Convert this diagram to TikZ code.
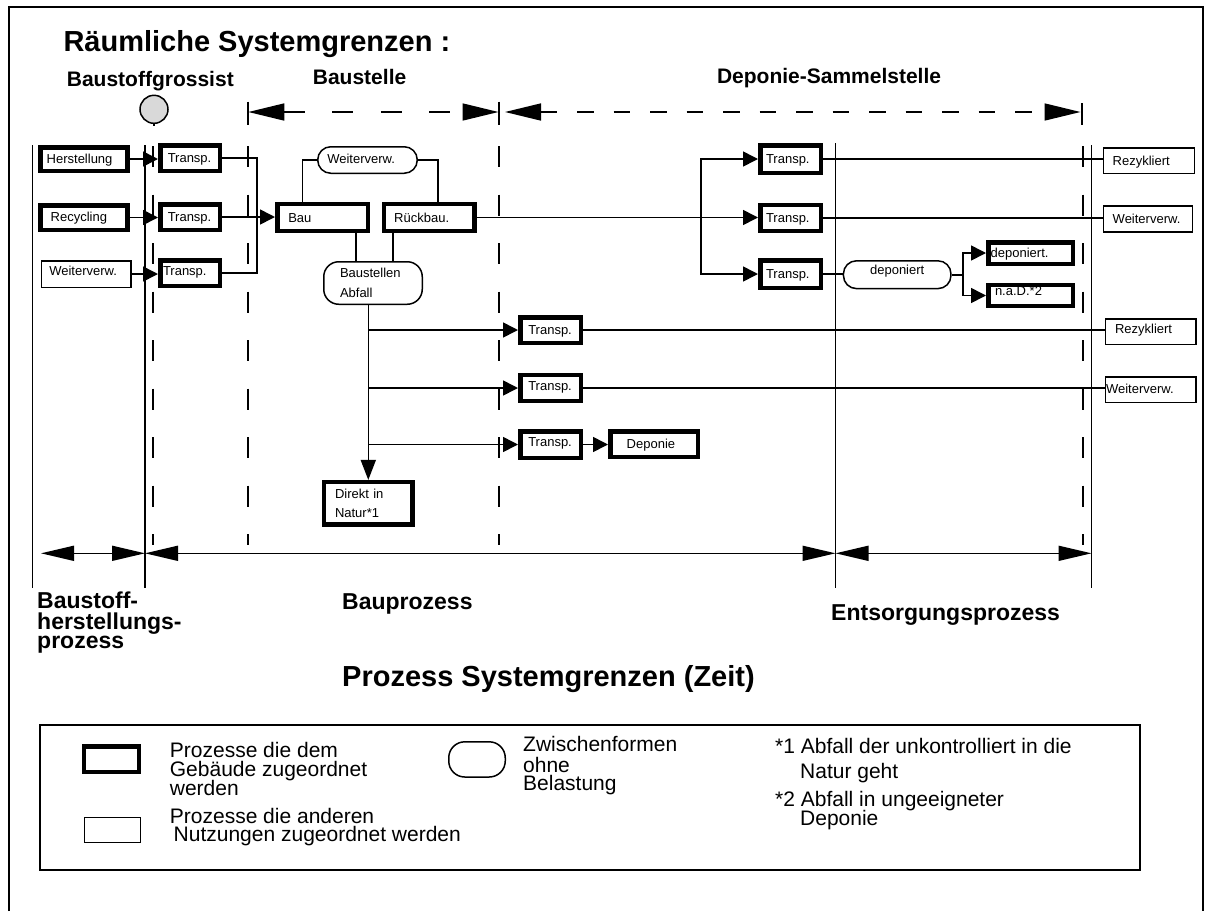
\documentclass[tikz,border=0pt]{standalone}
\usepackage{fontspec}
\setmainfont{Liberation Sans}
\usetikzlibrary{arrows.meta}
\newcommand\fsmall{\fontsize{13}{15}\selectfont}
\newcommand\fsmallB{\fontsize{13}{20}\selectfont}
\newcommand\fsmallC{\fontsize{13}{18.7}\selectfont}
\newcommand\flegend{\fontsize{21}{21}\selectfont}
\newcommand\fhead{\fontsize{21}{24}\selectfont\bfseries}
\newcommand\fproc{\fontsize{23}{24}\selectfont\bfseries}
\newcommand\ftitle{\fontsize{29}{32}\selectfont\bfseries}
\begin{document}
\begin{tikzpicture}[x=1pt,y=-1pt,
  conn/.style={line width=1.6pt},
  arr/.style={conn,-{Triangle[length=15pt,width=15pt]}},
  arrd/.style={conn,-{Triangle[length=20pt,width=15pt]}},
  dimA/.style={line width=1.6pt,{Triangle[length=36pt,width=17pt]}-{Triangle[length=36pt,width=17pt]}},
  dimB/.style={line width=1.6pt,{Triangle[length=33pt,width=15pt]}-{Triangle[length=33pt,width=15pt]}},
  tick/.style={line width=2pt},
  dsh/.style={line width=2pt,dash pattern=on 21pt off 27.5pt},
  sol/.style={line width=1.6pt},
  gb/.style={draw,line width=4.5pt,rectangle,inner sep=0pt,font=\fsmall,align=left},
  ob/.style={draw,line width=1.5pt,rectangle,inner sep=0pt,font=\fsmall,align=left},
  rbx/.style={ob,rounded corners=13pt},
  tl/.style={text height=9.5pt,text depth=#1},
  sz/.style n args={3}{minimum width=#1pt,minimum height=#2pt,text width=#3pt},
  lbl/.style={anchor=base west,inner sep=0pt},
]
\useasboundingbox (0,0) rectangle (1205,911);
% outer frame
\draw[line width=2pt] (9,911) -- (9,7) -- (1203,7) -- (1203,911);

% titles
\node[lbl,font=\ftitle] (title) at (63.3,51.7) {Räumliche Systemgrenzen :};
\node[lbl,font=\fhead] (hgross) at (66.7,86) {Baustoffgrossist};
\node[lbl,font=\fhead] (hbaust) at (312.7,84) {Baustelle};
\node[lbl,font=\fhead] (hdepo) at (716.8,83) {Deponie-Sammelstelle};

% circle
\node[circle,draw,fill=gray!30,line width=1.5pt,minimum size=28pt,inner sep=0pt] (grossist) at (154,109.3) {};
\coordinate (stemE) at (154,126);
\draw[conn] (grossist.south) -- (stemE);

% top dimension lines
\coordinate (bsL) at (248.3,112); \coordinate (bsR) at (498.5,112);
\coordinate (dpL) at (505,112); \coordinate (dpR) at (1080.5,112);
\draw[dimA,dash pattern=on 21pt off 27.5pt] (bsL) -- (bsR);
\draw[dimA,dash pattern=on 16.5pt off 20pt] (dpL) -- (dpR);
\coordinate (k1a) at (248.3,101.7); \coordinate (k1b) at (248.3,125);
\coordinate (k2a) at (499.3,101.7); \coordinate (k2b) at (499.3,125);
\coordinate (k3a) at (1081.7,103); \coordinate (k3b) at (1081.7,125);
\draw[tick] (k1a) -- (k1b); \draw[tick] (k2a) -- (k2b); \draw[tick] (k3a) -- (k3b);

% dashed vertical boundaries
\coordinate (d1a) at (153,146); \coordinate (d1b) at (153,545);
\coordinate (d2a) at (248.3,146); \coordinate (d2b) at (248.3,545);
\coordinate (d3a) at (499.3,146); \coordinate (d3b) at (499.3,545);
\coordinate (d4a) at (1083,146); \coordinate (d4b) at (1083,545);
\draw[dsh] (d1a) -- (d1b); \draw[dsh] (d2a) -- (d2b);
\draw[dsh] (d3a) -- (d3b); \draw[dsh] (d4a) -- (d4b);

% solid vertical process boundaries
\coordinate (s1a) at (32.5,145); \coordinate (s1b) at (32.5,588.3);
\coordinate (s2a) at (145,145); \coordinate (s2b) at (145,588.3);
\coordinate (s3a) at (835.5,143); \coordinate (s3b) at (835.5,588.3);
\coordinate (s4a) at (1091.5,145); \coordinate (s4b) at (1091.5,588.3);
\draw[sol] (s1a) -- (s1b); \draw[sol] (s2a) -- (s2b);
\draw[sol] (s3a) -- (s3b); \draw[sol] (s4a) -- (s4b);

% bottom dimension lines
\coordinate (b1) at (41,553.3); \coordinate (b2) at (145,553.3);
\coordinate (b3) at (835.5,553.3); \coordinate (b4) at (1091.5,553.3);
\draw[dimB] (b1) -- (b2);
\draw[dimB] (b2) -- (b3);
\draw[dimB] (b3) -- (b4);

% left column
\node[gb,sz={87}{23.5}{75},tl=-2.5pt] (herst) at (84.2,159) {Herstellung};
\node[gb,sz={87}{24.5}{67},tl=1.1pt] (recyc) at (84.2,217.5) {Recycling};
\node[ob,sz={89.8}{26.5}{74},tl=7.5pt] (weiL) at (86.3,274) {Weiterverw.};
\node[gb,sz={59.5}{25.5}{44.5},tl=-1.1pt] (tA) at (190,158) {Transp.};
\node[gb,sz={59.5}{25.5}{44.5},tl=0.1pt] (tB) at (190,217) {Transp.};
\node[gb,sz={59.5}{25.5}{54},tl=5.5pt] (tC) at (190,273) {Transp.};
\draw[arr] (herst.east) -- (herst.east -| tA.west);
\draw[arr] (recyc.east) -- (recyc.east -| tB.west);
\draw[arr] (weiL.east) -- (weiL.east -| tC.west);
\coordinate (jL) at (256.7,217.5);
\draw[conn] (tA.east) -| (jL) |- (tC.east);

% Baustelle
\node[gb,sz={90.5}{27}{68.4},tl=-8.9pt] (bau) at (322.5,217.5) {Bau};
\node[gb,sz={90.5}{27}{70},tl=-8.9pt] (rb) at (429.2,217.5) {Rückbau.};
\node[rbx,sz={99.5}{26.5}{80.4},tl=2.9pt] (wm) at (367.5,160) {Weiterverw.};
\node[rbx,rounded corners=15pt,font=\fsmallB,sz={98.5}{42.5}{66}] (abf) at (373,283) {Baustellen\\Abfall};
\node[gb,font=\fsmallC,sz={88.8}{42.2}{66.6}] (dn) at (368.3,503.3) {Direkt in\\Natur*1};
\draw[arr] (tB.east) -- (tB.east -| bau.west);
\draw[conn] (wm.west) -| ([xshift=-20pt]bau.north);
\draw[conn] (wm.east) -| ([xshift=9pt]rb.north);
\draw[conn] ([xshift=33.5pt]bau.south) -- ([xshift=33.5pt]bau.south |- abf.north);
\draw[conn] ([xshift=-36pt]rb.south) -- ([xshift=-36pt]rb.south |- abf.north);
\draw[arrd] (dn.north |- abf.south) -- (dn.north);

% middle transports
\node[gb,sz={60.5}{25.5}{44.5},tl=-2.5pt] (tM1) at (550.5,330) {Transp.};
\node[gb,sz={60.5}{26}{44.5},tl=4.1pt] (tM2) at (550.5,388) {Transp.};
\node[gb,sz={60.5}{26.5}{44.5},tl=5.1pt] (tM3) at (550.5,444.5) {Transp.};
\node[gb,sz={87.5}{25.5}{54.6},tl=-7.9pt] (dpn) at (654,444) {Deponie};
\draw[arr] (dn.north |- tM1.west) -- (tM1.west);
\draw[arr] (dn.north |- tM2.west) -- (tM2.west);
\draw[arr] (dn.north |- tM3.west) -- (tM3.west);
\draw[arr] (tM3.east) -- (tM3.east -| dpn.west);
\node[ob,sz={90.2}{25.5}{71.6},tl=6.5pt] (rezM) at (1150.8,331.5) {Rezykliert};
\node[ob,sz={90.2}{25.8}{89.6},tl=2.9pt] (weiM) at (1150.8,389.7) {Weiterverw.};
\draw[conn] (tM1.east) -- (tM1.east -| rezM.west);
\draw[conn] (tM2.east) -- (tM2.east -| weiM.west);

% right transports
\node[gb,sz={60.5}{27.5}{49},tl=-5.9pt] (tR1) at (790.5,159) {Transp.};
\node[gb,sz={60.5}{26}{49},tl=-7.9pt] (tR2) at (790.5,218) {Transp.};
\node[gb,sz={60.5}{27.5}{49},tl=-5.9pt] (tR3) at (790.5,274) {Transp.};
\coordinate (jR) at (700.7,217.5);
\draw[arr] (rb.east) -- (rb.east -| tR2.west);
\draw[arr] (jR) |- (tR1.west);
\draw[arr] (jR) |- (tR3.west);
\node[ob,sz={90.8}{25.5}{72.4},tl=0.5pt] (rezT) at (1148.9,160.5) {Rezykliert};
\node[ob,sz={88.8}{26}{70.4},tl=-6.1pt] (weiT) at (1147.9,218.9) {Weiterverw.};
\draw[conn] (tR1.east) -- (tR1.east -| rezT.west);
\draw[conn] (tR2.east) -- (tR2.east -| weiT.west);
\node[rbx,align=center,sz={107.5}{27.8}{100},tl=10pt] (dep) at (897.2,274.7) {deponiert};
\node[gb,sz={84.5}{21.5}{79.6},tl=-0.5pt] (depd) at (1030.5,253) {deponiert.};
\node[gb,sz={84.5}{21}{71},tl=9.5pt] (nad) at (1030.5,295.5) {n.a.D.*2};
\coordinate (jD) at (962.7,274.7);
\draw[conn] (tR3.east) -- (tR3.east -| dep.west);
\draw[conn] (dep.east) -- (jD);
\draw[arr] (jD) |- (depd.west);
\draw[arr] (jD) |- (nad.west);

% process labels
\node[lbl,font=\fproc] (p1a) at (37,608.3) {Baustoff-};
\node[lbl,font=\fproc] (p1b) at (37,629) {herstellungs-};
\node[lbl,font=\fproc] (p1c) at (37,648.3) {prozess};
\node[lbl,font=\fproc] (p2) at (342,609.3) {Bauprozess};
\node[lbl,font=\fproc] (p3) at (831,620) {Entsorgungsprozess};
\node[lbl,font=\ftitle] (ptitle) at (342,686.7) {Prozess Systemgrenzen (Zeit)};

% legend
\node[draw,line width=1.8pt,minimum width=1100pt,minimum height=145pt,inner sep=0pt] (legend) at (590,797.5) {};
\node[gb,sz={54.8}{25.5}{10}] (lgA) at (111.4,759) {};
\node[ob,sz={56}{25}{10}] (lgB) at (112.3,830) {};
\node[rbx,rounded corners=16pt,sz={56.5}{35.2}{10}] (lgC) at (477,759.4) {};
\node[lbl,font=\flegend] (l1a) at (169.7,757.3) {Prozesse die dem};
\node[lbl,font=\flegend] (l1b) at (169.7,776.7) {Gebäude zugeordnet};
\node[lbl,font=\flegend] (l1c) at (169.7,795) {werden};
\node[lbl,font=\flegend] (l2a) at (169.7,823.3) {Prozesse die anderen};
\node[lbl,font=\flegend] (l2b) at (173.5,841.7) {Nutzungen zugeordnet werden};
\node[lbl,font=\flegend] (l3a) at (523,751.7) {Zwischenformen};
\node[lbl,font=\flegend] (l3b) at (523,772) {ohne};
\node[lbl,font=\flegend] (l3c) at (523,790) {Belastung};
\node[lbl,font=\flegend] (f1a) at (775,753) {*1 Abfall der unkontrolliert in die};
\node[lbl,font=\flegend] (f1b) at (800,778.5) {Natur geht};
\node[lbl,font=\flegend] (f2a) at (775,806) {*2 Abfall in ungeeigneter};
\node[lbl,font=\flegend] (f2b) at (800,825) {Deponie};
\end{tikzpicture}
\end{document}
